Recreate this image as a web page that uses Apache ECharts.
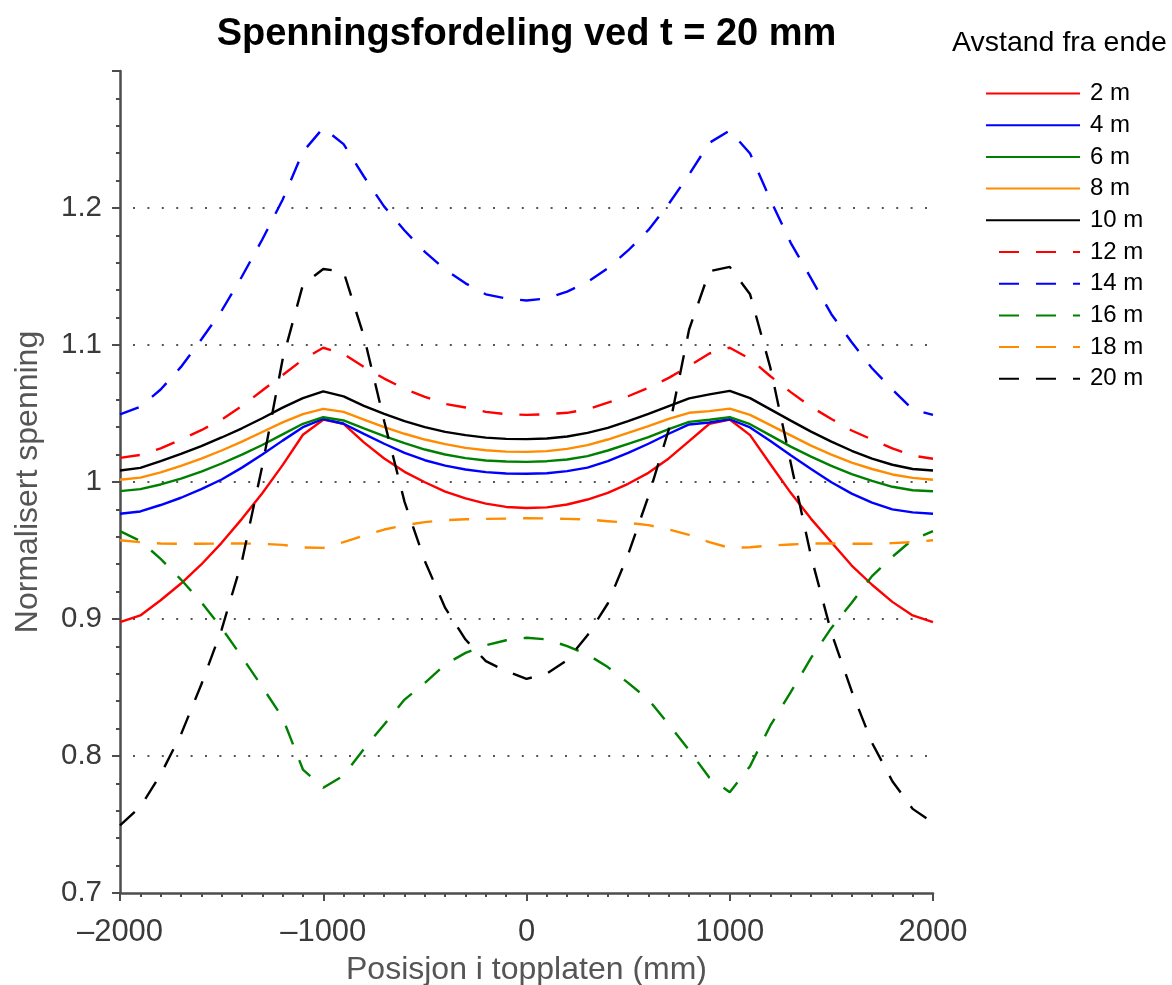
<!DOCTYPE html>
<html>
<head>
<meta charset="utf-8">
<script src="https://cdn.jsdelivr.net/npm/echarts@6/dist/echarts.min.js"></script>
<style>
html,body{margin:0;padding:0;background:#fff;}
#c{width:1172px;height:985px;}
</style>
</head>
<body>
<div id="c"></div>
<script>
// Position along the top plate (mm)
const positions = [-2000,-1900,-1800,-1700,-1600,-1500,-1400,-1300,-1200,-1100,-1000,-900,-800,-700,-600,-500,-400,-300,-200,-100,0,
  100,200,300,400,500,600,700,800,900,1000,1100,1200,1300,1400,1500,1600,1700,1800,1900,2000];

const seriesNames = ['2 m','4 m','6 m','8 m','10 m','12 m','14 m','16 m','18 m','20 m'];

const s2m = [0.8977,0.9026,0.9137,0.9259,0.9398,0.9556,0.9731,0.9918,1.0123,1.0345,1.0455,1.0425,1.0289,1.0172,1.0074,0.9998,0.9930,0.9880,0.9842,0.9818,0.9810,
  0.9815,0.9836,0.9872,0.9921,0.9987,1.0067,1.0172,1.0298,1.0425,1.0456,1.0342,1.0130,0.9921,0.9731,0.9560,0.9390,0.9250,0.9125,0.9026,0.8977];
const s4m = [0.9768,0.9785,0.9832,0.9885,0.9948,1.0018,1.0105,1.0200,1.0302,1.0400,1.0460,1.0425,1.0351,1.0279,1.0213,1.0159,1.0120,1.0091,1.0072,1.0062,1.0060,
  1.0064,1.0079,1.0105,1.0152,1.0213,1.0279,1.0352,1.0420,1.0434,1.0458,1.0398,1.0300,1.0195,1.0095,0.9998,0.9915,0.9850,0.9800,0.9778,0.9768];
const s6m = [0.9933,0.9948,0.9982,1.0024,1.0076,1.0135,1.0200,1.0270,1.0348,1.0425,1.0473,1.0449,1.0391,1.0335,1.0284,1.0237,1.0201,1.0174,1.0157,1.0150,1.0147,
  1.0152,1.0164,1.0189,1.0230,1.0279,1.0327,1.0386,1.0439,1.0454,1.0473,1.0422,1.0340,1.0258,1.0185,1.0118,1.0058,1.0008,0.9965,0.9940,0.9933];
const s8m = [1.0016,1.0032,1.0070,1.0118,1.0170,1.0230,1.0295,1.0365,1.0435,1.0496,1.0534,1.0512,1.0456,1.0400,1.0352,1.0310,1.0276,1.0249,1.0232,1.0222,1.0220,
  1.0225,1.0242,1.0269,1.0310,1.0359,1.0408,1.0461,1.0505,1.0517,1.0536,1.0490,1.0415,1.0340,1.0265,1.0200,1.0142,1.0095,1.0055,1.0030,1.0016];
const s10m = [1.0084,1.0103,1.0152,1.0206,1.0262,1.0325,1.0392,1.0465,1.0543,1.0612,1.0662,1.0625,1.0556,1.0498,1.0444,1.0400,1.0366,1.0342,1.0324,1.0315,1.0313,
  1.0318,1.0332,1.0359,1.0395,1.0444,1.0498,1.0554,1.0610,1.0640,1.0665,1.0612,1.0530,1.0448,1.0368,1.0295,1.0228,1.0170,1.0126,1.0095,1.0084];
const s12m = [1.0176,1.0198,1.0245,1.0310,1.0378,1.0456,1.0554,1.0668,1.0780,1.0894,1.0980,1.0935,1.0840,1.0755,1.0680,1.0622,1.0570,1.0544,1.0512,1.0495,1.0490,
  1.0495,1.0505,1.0530,1.0580,1.0626,1.0687,1.0760,1.0846,1.0938,1.0980,1.0899,1.0772,1.0656,1.0549,1.0460,1.0376,1.0310,1.0245,1.0193,1.0170];
const s14m = [1.0493,1.0550,1.0675,1.0840,1.1040,1.1250,1.1500,1.1770,1.2060,1.2410,1.2585,1.2466,1.2230,1.2010,1.1836,1.1680,1.1550,1.1450,1.1370,1.1340,1.1325,
  1.1340,1.1390,1.1460,1.1560,1.1690,1.1840,1.2030,1.2245,1.2476,1.2565,1.2398,1.2060,1.1746,1.1486,1.1225,1.1020,1.0830,1.0675,1.0530,1.0490];
const s16m = [0.9641,0.9570,0.9439,0.9288,0.9123,0.8935,0.8723,0.8504,0.8279,0.7901,0.7768,0.7857,0.8052,0.8230,0.8412,0.8534,0.8668,0.8753,0.8809,0.8845,0.8863,
  0.8851,0.8802,0.8741,0.8649,0.8534,0.8412,0.8230,0.8043,0.7841,0.7736,0.7926,0.8223,0.8466,0.8716,0.8935,0.9118,0.9313,0.9454,0.9580,0.9641];
const s18m = [0.9575,0.9561,0.9551,0.9549,0.9549,0.9551,0.9551,0.9549,0.9541,0.9522,0.9519,0.9561,0.9609,0.9653,0.9685,0.9707,0.9722,0.9728,0.9731,0.9733,0.9736,
  0.9734,0.9731,0.9726,0.9714,0.9702,0.9685,0.9653,0.9614,0.9561,0.9519,0.9524,0.9536,0.9544,0.9551,0.9551,0.9549,0.9549,0.9554,0.9561,0.9575];
const s20m = [0.7493,0.7629,0.7865,0.8157,0.8522,0.8923,0.9422,1.0116,1.0894,1.1440,1.1555,1.1535,1.1064,1.0444,0.9855,0.9422,0.9081,0.8850,0.8692,0.8619,0.8563,
  0.8601,0.8699,0.8881,0.9113,0.9471,0.9896,1.0383,1.1113,1.1539,1.1570,1.1370,1.0833,1.0140,0.9458,0.8899,0.8473,0.8096,0.7816,0.7614,0.7512];

const seriesValues = [s2m,s4m,s6m,s8m,s10m,s12m,s14m,s16m,s18m,s20m];
const colors = ['#ff0000','#0000ff','#008000','#ff8c00','#000000','#ff0000','#0000ff','#008000','#ff8c00','#000000'];
const dashed = [false,false,false,false,false,true,true,true,true,true];

const xTicks = [-2000,-1000,0,1000,2000];
const yTicks = [0.7,0.8,0.9,1.0,1.1,1.2];

const FONT = "'Liberation Sans', Arial, sans-serif";
const AXIS_COLOR = '#4d4d4d';
const TEXT_COLOR = '#3a3a3a';

const chart = echarts.init(document.getElementById('c'), null, {renderer:'canvas'});

const series = seriesValues.map((vals, i) => ({
  name: seriesNames[i],
  type: 'line',
  data: positions.map((x, k) => [x, vals[k]]),
  symbol: 'none',
  silent: true,
  animation: false,
  lineStyle: {color: colors[i], width: 2.4, type: dashed[i] ? [20, 17] : 'solid', cap: 'butt'},
  itemStyle: {color: colors[i]}
}));

chart.setOption({
  animation: false,
  backgroundColor: '#ffffff',
  textStyle: {fontFamily: FONT},
  title: [
    {text: 'Spenningsfordeling ved t = 20 mm', left: 526.5, top: 16, textAlign: 'center', padding: 0,
     textStyle: {fontFamily: FONT, fontSize: 38, fontWeight: 'bold', color: '#000'}},
    {text: 'Avstand fra ende', left: 952, top: 29, padding: 0,
     textStyle: {fontFamily: FONT, fontSize: 28.5, fontWeight: 'normal', color: '#000'}}
  ],
  legend: {
    orient: 'vertical',
    left: 985, top: 81,
    padding: 0,
    itemWidth: 94, itemHeight: 14,
    itemGap: 6.7,
    data: seriesNames,
    itemStyle: {opacity: 0},
    textStyle: {fontFamily: FONT, fontSize: 24, color: '#000', lineHeight: 25, padding: [0,0,0,5]}
  },
  grid: {left: 120, right: 239, top: 71, bottom: 92, containLabel: false, outerBoundsMode: 'none'},
  xAxis: {
    type: 'value', min: xTicks[0], max: xTicks[xTicks.length-1], interval: 1000,
    name: 'Posisjon i topplaten (mm)', nameLocation: 'middle', nameGap: 61,
    nameTextStyle: {fontFamily: FONT, fontSize: 32, color: '#555'},
    axisLine: {show: true, onZero: false, lineStyle: {color: AXIS_COLOR, width: 2.5}},
    axisTick: {show: true, length: 8, inside: false, lineStyle: {color: AXIS_COLOR, width: 2}},
    minorTick: {show: true, splitNumber: 10, length: 4, lineStyle: {color: AXIS_COLOR, width: 2}},
    axisLabel: {margin: 24, fontFamily: FONT, fontSize: 31, color: TEXT_COLOR,
      formatter: v => v < 0 ? '\u2013' + Math.abs(v) : String(v)},
    splitLine: {show: false}
  },
  yAxis: {
    type: 'value', min: 0.7, max: 1.3, interval: 0.1,
    name: 'Normalisert spenning', nameLocation: 'middle', nameGap: 76,
    nameTextStyle: {fontFamily: FONT, fontSize: 32, color: '#555'},
    axisLine: {show: true, onZero: false, lineStyle: {color: AXIS_COLOR, width: 2.5}},
    axisTick: {show: true, length: 8, inside: false, lineStyle: {color: AXIS_COLOR, width: 2}},
    minorTick: {show: true, splitNumber: 5, length: 4, lineStyle: {color: AXIS_COLOR, width: 2}},
    axisLabel: {margin: 18, fontFamily: FONT, fontSize: 29.5, color: TEXT_COLOR,
      formatter: v => (v > 1.25 ? '' : String(+v.toFixed(1)))},
    splitLine: {show: true, showMinLine: false, showMaxLine: false,
      lineStyle: {color: '#555', width: 2, type: [2, 12.4], dashOffset: -13}}
  },
  series: series
});
</script>
</body>
</html>
